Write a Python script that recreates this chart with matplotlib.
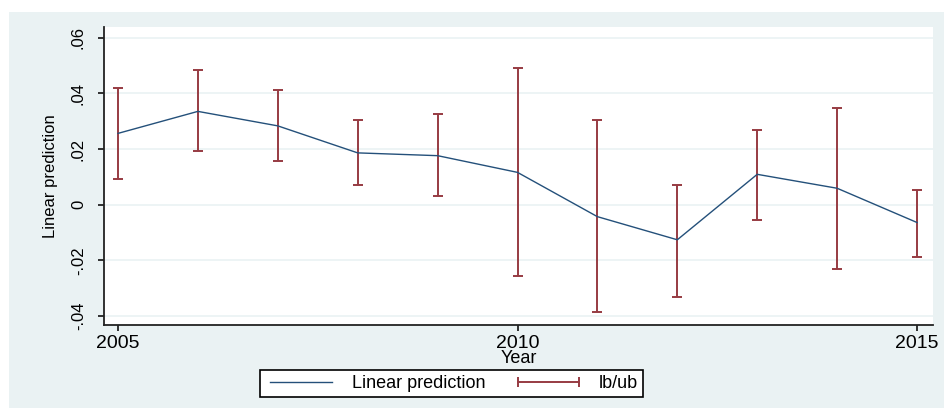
import numpy as np
import matplotlib
matplotlib.use("Agg")
import matplotlib.pyplot as plt
from matplotlib.lines import Line2D
from matplotlib.patches import Rectangle

# values
years = [2005, 2006, 2007, 2008, 2009, 2010, 2011, 2012, 2013, 2014, 2015]
pred = [0.0256, 0.0335, 0.0283, 0.0186, 0.0176, 0.0116, -0.0043, -0.0126, 0.0109, 0.0059, -0.0064]
upper = [0.0419, 0.0482, 0.0410, 0.0303, 0.0327, 0.0489, 0.0305, 0.0071, 0.0269, 0.0347, 0.0054]
lower = [0.0092, 0.0193, 0.0156, 0.0072, 0.0030, -0.0256, -0.0385, -0.0330, -0.0054, -0.0230, -0.0189]
yticks = [-0.04, -0.02, 0, 0.02, 0.04, 0.06]
ytick_labels = ["-.04", "-.02", "0", ".02", ".04", ".06"]
xticks = [2005, 2010, 2015]

navy = "#24507a"
maroon = "#973b42"
bg = "#eaf2f3"

plt.rcParams['font.family'] = ['Liberation Sans', 'DejaVu Sans']

fig = plt.figure(figsize=(9.44, 4.08), dpi=100, facecolor="white")
# stata-style outer background
fig.patches.append(Rectangle((9 / 944, 0), 1, 1 - 12 / 408, transform=fig.transFigure,
                             facecolor=bg, edgecolor="none", zorder=-10))

ax = fig.add_axes([104 / 944, 1 - 325 / 408, (933 - 104) / 944, (325 - 27) / 408])
ax.set_facecolor("white")

ax.plot(years, pred, color=navy, lw=1.0, zorder=3)
y = np.array(pred)
ax.errorbar(years, pred, yerr=[y - np.array(lower), np.array(upper) - y], fmt="none",
            ecolor=maroon, elinewidth=1.4, capsize=3.5, capthick=1.4, zorder=2)

ax.set_xlim(2004.825, 2015.2)
ax.set_ylim(-0.0432, 0.0638)
ax.set_yticks(yticks)
ax.set_yticklabels(ytick_labels, rotation=90, va="center", fontsize=12)
ax.set_xticks(xticks)
ax.set_xticklabels([str(t) for t in xticks], fontsize=14)
ax.grid(axis="y", color=bg, lw=1.2)
ax.set_axisbelow(True)
for s in ["top", "right"]:
    ax.spines[s].set_visible(False)
for s in ["left", "bottom"]:
    ax.spines[s].set_color("#222222")
    ax.spines[s].set_linewidth(1.3)
ax.tick_params(axis="both", direction="out", length=4, width=1.3, color="#222222")
ax.tick_params(axis="y", pad=9)
ax.tick_params(axis="x", pad=3)
ax.set_ylabel("Linear prediction", fontsize=12, labelpad=9)
ax.set_xlabel("Year", fontsize=13, labelpad=-1)

handles = [Line2D([], [], color=navy, lw=1.0),
           Line2D([], [], color=maroon, lw=1.4, marker="|", markersize=7, markeredgewidth=1.4)]
leg = fig.legend(handles, ["Linear prediction", "lb/ub"], loc="center",
                 bbox_to_anchor=(451.5 / 944, 1 - 383.5 / 408), ncol=2, numpoints=2,
                 fontsize=13, handlelength=4, columnspacing=1.5, fancybox=False,
                 framealpha=1, edgecolor="black", borderpad=0.25)
leg.get_frame().set_linewidth(1.2)

fig.savefig("out.png", dpi=100, facecolor="white")
